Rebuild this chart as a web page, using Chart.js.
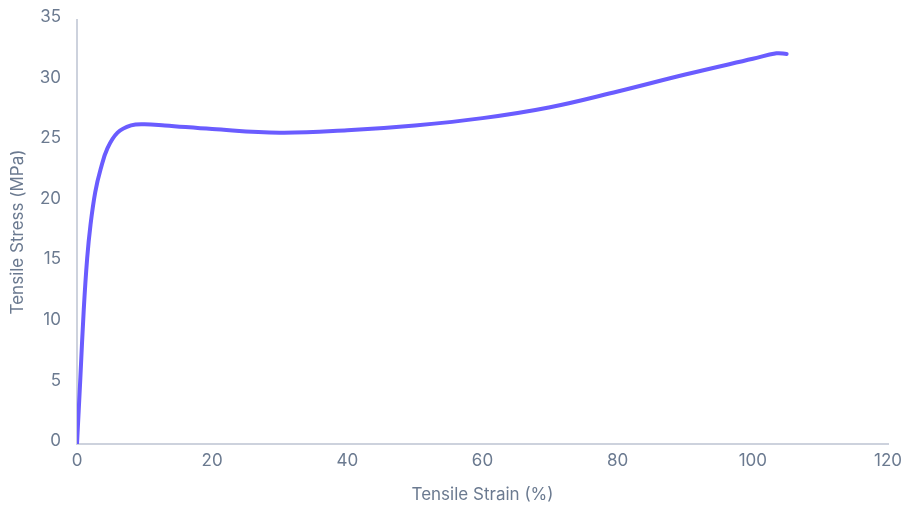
<!DOCTYPE html>
<html>
<head>
<meta charset="utf-8">
<script src="https://cdn.jsdelivr.net/npm/chart.js@4"></script>
<style>
  html, body { margin: 0; padding: 0; background: #fff; }
  #wrap { width: 906px; height: 512px; }
</style>
</head>
<body>
<div id="wrap"><canvas id="chart" width="906" height="512"></canvas></div>
<script>
// tensile curve
const strain = [0, 0.5, 1, 1.5, 2, 2.7, 3.5, 4.5, 6, 8, 10, 13, 20, 30, 40, 50, 60, 70, 80, 90, 100, 103.5, 105];
const stress = [0, 5.5, 11.1, 15.3, 18.1, 20.8, 22.7, 24.4, 25.7, 26.3, 26.4, 26.3, 26.0, 25.7, 25.9, 26.3, 26.9, 27.8, 29.1, 30.5, 31.8, 32.25, 32.2];
const xTicks = [0, 20, 40, 60, 80, 100, 120];
const yTicks = [0, 5, 10, 15, 20, 25, 30, 35];

const points = strain.map((s, i) => ({ x: s, y: stress[i] }));
const textColor = '#6b7a90';
const axisColor = '#cdd2dd';
const font = { family: 'Inter', size: 17 };

new Chart(document.getElementById('chart').getContext('2d'), {
    type: 'scatter',
    data: {
        datasets: [{
            label: 'Stress',
            data: points,
            showLine: true,
            borderColor: '#6a5cff',
            borderWidth: 4,
            pointRadius: 0,
            tension: 0.4,
            borderCapStyle: 'round',
            fill: false
        }]
    },
    options: {
        responsive: false,
        animation: false,
        layout: { padding: { top: 20, right: 18, left: 4, bottom: 3 } },
        plugins: { legend: { display: false }, tooltip: { enabled: false } },
        scales: {
            x: {
                type: 'linear',
                min: 0,
                max: 120,
                afterBuildTicks: axis => { axis.ticks = xTicks.map(v => ({ value: v })); },
                afterFit: axis => { axis.height = 65; axis.paddingLeft = 0; axis.paddingRight = 0; },
                grid: { display: false, drawTicks: false },
                border: { color: axisColor, width: 2 },
                ticks: { color: textColor, font: font, padding: 7 },
                title: { display: true, text: 'Tensile Strain (%)', color: textColor, font: font, padding: { top: 4, bottom: 4 } }
            },
            y: {
                min: 0,
                max: 35,
                afterBuildTicks: axis => { axis.ticks = yTicks.map(v => ({ value: v })); },
                afterFit: axis => { axis.width = 73; axis.paddingTop = 0; axis.paddingBottom = 0; },
                grid: { display: false, drawTicks: false },
                border: { color: axisColor, width: 2 },
                ticks: { color: textColor, font: font, padding: 16, labelOffset: -3 },
                title: { display: true, text: 'Tensile Stress (MPa)', color: textColor, font: font, padding: { top: 4, bottom: 4 } }
            }
        }
    }
});
</script>
</body>
</html>
